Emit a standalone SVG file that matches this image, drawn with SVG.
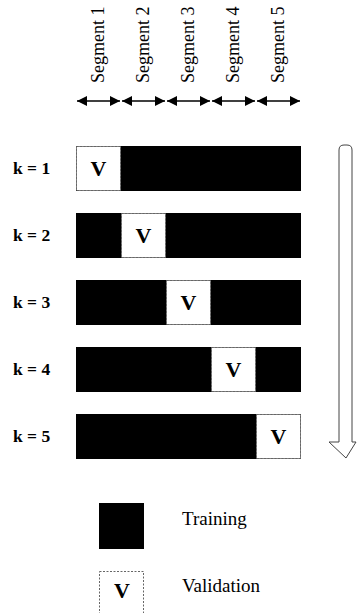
<svg xmlns="http://www.w3.org/2000/svg" width="357" height="613" viewBox="0 0 357 613">
  <style>
    .seg { font-family: "Liberation Serif", "Times New Roman", serif; font-size: 18px; fill: #000; }
    .k { font-family: "Liberation Serif", "Times New Roman", serif; font-size: 17.5px; font-weight: bold; fill: #000; }
    .v { font-family: "Liberation Serif", "Times New Roman", serif; font-size: 22px; font-weight: bold; fill: #000; text-anchor: middle; }
    .leg { font-family: "Liberation Serif", "Times New Roman", serif; font-size: 19px; fill: #000; }
    .train { fill: #000; }
    .valid { fill: #fff; stroke: #666; stroke-width: 1; stroke-dasharray: 2 1.5; }
    .span { stroke: #000; stroke-width: 1.5; fill: none; marker-start: url(#head); marker-end: url(#head); }
    .flow { fill: #fff; stroke: #444; stroke-width: 1; }
  </style>
  <defs>
    <marker id="head" markerUnits="userSpaceOnUse" markerWidth="10" markerHeight="10" refX="10" refY="5" orient="auto-start-reverse">
      <path d="M0,0 L10,5 L0,10 Z" fill="#000"/>
    </marker>
  </defs>

  <rect width="357" height="613" fill="#fff"/>

  <!-- segment headings, read bottom to top -->
  <g id="segment-labels">
    <text class="seg" transform="translate(104,83) rotate(-90)">Segment 1</text>
    <text class="seg" transform="translate(149,83) rotate(-90)">Segment 2</text>
    <text class="seg" transform="translate(194,83) rotate(-90)">Segment 3</text>
    <text class="seg" transform="translate(239,83) rotate(-90)">Segment 4</text>
    <text class="seg" transform="translate(284,83) rotate(-90)">Segment 5</text>
  </g>

  <!-- double-headed extent arrows, one per segment -->
  <g id="connectors">
    <line class="span" x1="77" y1="101" x2="120" y2="101"/>
    <line class="span" x1="122" y1="101" x2="165" y2="101"/>
    <line class="span" x1="167" y1="101" x2="210" y2="101"/>
    <line class="span" x1="212" y1="101" x2="255" y2="101"/>
    <line class="span" x1="257" y1="101" x2="300" y2="101"/>
    <!-- hollow progression arrow on the right -->
    <path class="flow" d="M339,150 Q339,145 344,145 L347,145 Q352,145 352,150 L352,442 L356,442 L346,458 L329,442 L339,442 Z"/>
  </g>

  <!-- fold rows -->
  <g id="fold-1">
    <text class="k" x="13" y="174">k = 1</text>
    <rect class="train" x="76" y="146" width="225" height="45"/>
    <rect class="valid" x="76.5" y="146.5" width="44" height="44"/>
    <text class="v" x="98.5" y="176">V</text>
  </g>
  <g id="fold-2">
    <text class="k" x="13" y="241">k = 2</text>
    <rect class="train" x="76" y="213" width="225" height="45"/>
    <rect class="valid" x="121.5" y="213.5" width="44" height="44"/>
    <text class="v" x="143.5" y="243">V</text>
  </g>
  <g id="fold-3">
    <text class="k" x="13" y="308">k = 3</text>
    <rect class="train" x="76" y="280" width="225" height="45"/>
    <rect class="valid" x="166.5" y="280.5" width="44" height="44"/>
    <text class="v" x="188.5" y="310">V</text>
  </g>
  <g id="fold-4">
    <text class="k" x="13" y="375">k = 4</text>
    <rect class="train" x="76" y="347" width="225" height="45"/>
    <rect class="valid" x="211.5" y="347.5" width="44" height="44"/>
    <text class="v" x="233.5" y="377">V</text>
  </g>
  <g id="fold-5">
    <text class="k" x="13" y="442">k = 5</text>
    <rect class="train" x="76" y="414" width="225" height="45"/>
    <rect class="valid" x="256.5" y="414.5" width="44" height="44"/>
    <text class="v" x="278.5" y="444">V</text>
  </g>

  <!-- legend -->
  <g id="legend-training">
    <rect class="train" x="99" y="503" width="45" height="46"/>
    <text class="leg" x="182" y="525">Training</text>
  </g>
  <g id="legend-validation">
    <rect class="valid" x="99.5" y="571.5" width="44" height="44"/>
    <text class="v" x="122" y="598">V</text>
    <text class="leg" x="182" y="592">Validation</text>
  </g>
</svg>
